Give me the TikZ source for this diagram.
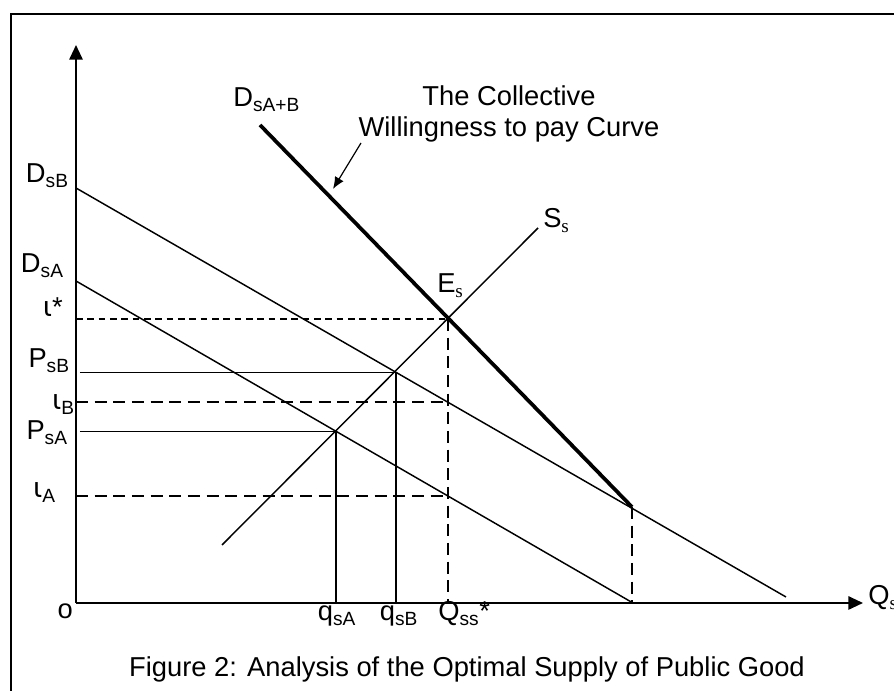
\documentclass[tikz,border=0pt]{standalone}
\usepackage{fontspec}
\setmainfont{Liberation Sans}
\newfontfamily\iotafont{DejaVu Sans}
\newfontfamily\subserif{Liberation Serif}
\usetikzlibrary{arrows.meta}

\newcommand{\iotalbl}{{\iotafont ι}}

\tikzset{
  curve/.style={line width=1.1pt},
  wtp/.style={line width=2.8pt},
  guide/.style={line width=0.7pt, shorten <=3pt},
  drop/.style={line width=1.2pt},
  shortdash/.style={line width=1.1pt, dash pattern=on 5pt off 3.5pt},
  longdash/.style={line width=1.2pt, dash pattern=on 9pt off 5pt},
  lbl/.style={inner sep=0pt, font=\fontsize{20.5}{23.25}\selectfont},
  axis/.style={line width=1.4pt, -{Triangle[length=11pt,width=10pt]}},
}

\begin{document}
\begin{tikzpicture}[x=0.75pt, y=0.75pt]
    \useasboundingbox (-76,-88) rectangle (818,603);
    \clip (-76,-88) rectangle (818,603);
    \draw[line width=1pt] (-65,589) rectangle (840,-110);

    % axes and curves
    \coordinate (o)    at (0,0);
    \coordinate (ytop) at (0,558);
    \coordinate (xend) at (787,0);
    \coordinate (DB0)  at (0,415);
    \coordinate (DB1)  at (710,6);
    \coordinate (DA0)  at (0,322);
    \coordinate (DA1)  at (557,0);
    \coordinate (W0)   at (184,478);
    \coordinate (K)    at (556,96);
    \coordinate (S0)   at (146,58);
    \coordinate (S1)   at (462,375);
    \coordinate (E)    at (372,284);
    \coordinate (PB)   at (320,231);
    \coordinate (PA)   at (260,172);
    \coordinate (LB)   at (372,200.7);
    \coordinate (LA)   at (372,107);
    \coordinate (tail) at (285,460);
    \coordinate (tip)  at (257,414);

    \node[lbl, anchor=base west] (DsAB)  at (157,496) {D\textsubscript{sA+B}};
    \node[lbl, align=center]     (wtpl)  at (433,489) {The Collective\\Willingness to pay Curve};
    \node[lbl, anchor=base west] (Ss)    at (467,375) {S\textsubscript{\subserif s}};
    \node[lbl, anchor=base west] (Es)    at (361,310) {E\textsubscript{\subserif s}};
    \node[lbl, anchor=base east] (DsB)   at (-7,420)  {D\textsubscript{sB}};
    \node[lbl, anchor=base east] (DsA)   at (-12,330) {D\textsubscript{sA}};
    \node[lbl, anchor=base east] (istar) at (-13,286) {\iotalbl*};
    \node[lbl, anchor=base east] (PsB)   at (-6,235)  {P\textsubscript{sB}};
    \node[lbl, anchor=base east] (iB)    at (-1,193)  {\iotalbl\textsubscript{B}};
    \node[lbl, anchor=base east] (PsA)   at (-8,163)  {P\textsubscript{sA}};
    \node[lbl, anchor=base east] (iA)    at (-20,105) {\iotalbl\textsubscript{A}};
    \node[lbl, anchor=base east] (olbl)  at (-3,-16)  {o};
    \node[lbl, anchor=base]      (qsA)   at (261,-18) {q\textsubscript{sA}};
    \node[lbl, anchor=base]      (qsB)   at (323,-18) {q\textsubscript{sB}};
    \node[lbl, anchor=base west] (Qss)   at (362,-18) {Q\textsubscript{ss}*};
    \node[lbl, anchor=base west] (Qs)    at (792,-2)  {Q\textsubscript{\subserif s}};
    \node[lbl, anchor=base]      (capt)  at (391,-74) {Figure 2: Analysis of the Optimal Supply of Public Good};

    \draw[axis] (o) -- (ytop);
    \draw[axis] (o) -- (xend);
    \draw[curve] (DB0) -- (DB1);
    \draw[curve] (DA0) -- (DA1);
    \draw[wtp] (W0) -- (K);
    \draw[curve] (S0) -- (S1);
    \draw[shortdash] (o |- E) -- (E);
    \draw[longdash] (E) -- (E |- o);
    \draw[guide] (o |- PB) -- (PB);
    \draw[drop] (PB) -- (PB |- o);
    \draw[longdash] (o |- LB) -- (LB);
    \draw[guide] (o |- PA) -- (PA);
    \draw[drop] (PA) -- (PA |- o);
    \draw[longdash] (o |- LA) -- (LA);
    \draw[longdash] (K) -- (K |- o);
    \draw[-{Latex[length=9pt,width=7.5pt]}, line width=0.9pt] (tail) -- (tip);
\end{tikzpicture}
\end{document}
